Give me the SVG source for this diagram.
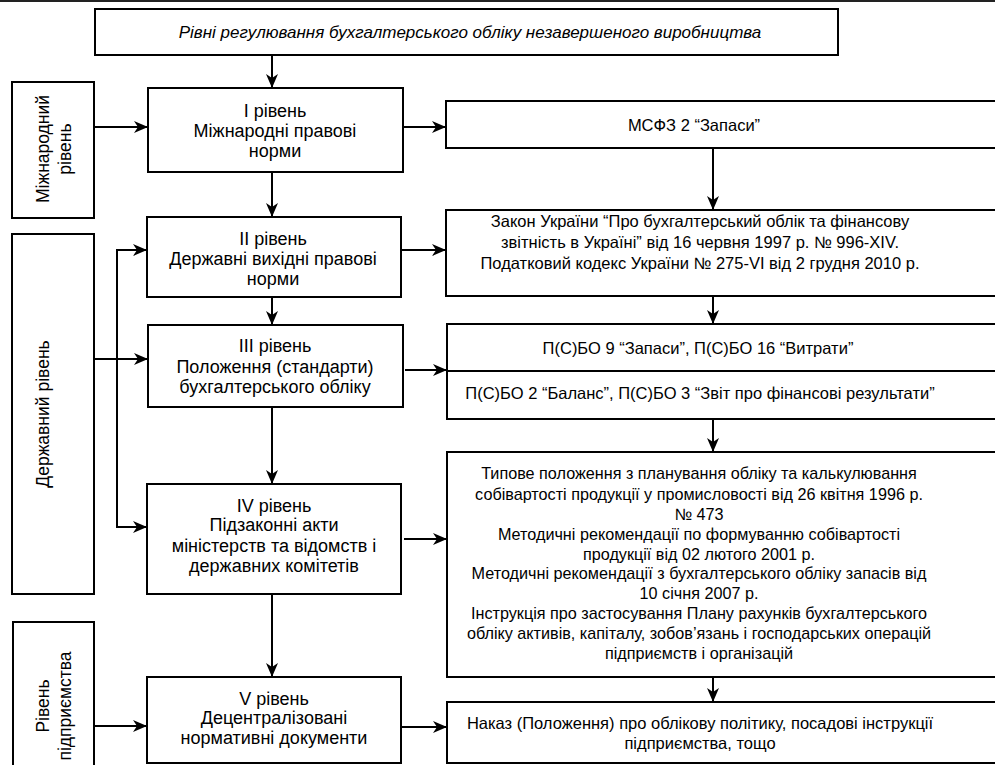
<svg xmlns="http://www.w3.org/2000/svg" width="995" height="765" viewBox="0 0 995 765">
<defs>
<marker id="ah" markerUnits="userSpaceOnUse" markerWidth="15" markerHeight="13" refX="14" refY="6.5" orient="auto">
<path d="M0,0.5 L14,6.5 L0,12.5 L4,6.5 Z" fill="#000"/>
</marker>
<style>
.box{fill:#fff;stroke:#000;stroke-width:2}
.t{font-family:"Liberation Sans",Arial,sans-serif;font-size:18px;fill:#000;text-anchor:middle}
.v{font-family:"Liberation Sans",Arial,sans-serif;font-size:17.5px;fill:#000;text-anchor:middle}
.r{font-family:"Liberation Sans",Arial,sans-serif;font-size:16.5px;fill:#000;text-anchor:middle}
.n{font-family:"Liberation Sans",Arial,sans-serif;font-size:16.2px;fill:#000;text-anchor:middle}
.h{font-family:"Liberation Sans",Arial,sans-serif;font-size:17px;font-style:italic;fill:#000;text-anchor:middle}
.c{fill:none;stroke:#000;stroke-width:2;marker-end:url(#ah)}
.p{fill:none;stroke:#000;stroke-width:2}
</style>
</defs>
<rect x="0" y="0" width="995" height="2" fill="#222"/>
<g id="title">
<rect class="box" x="95" y="9" width="743" height="46"/>
<text class="h" x="470" y="38">Рівні регулювання бухгалтерського обліку незавершеного виробництва</text>
</g>
<g id="intl">
<rect class="box" x="12" y="82" width="82" height="136"/>
<text class="v" transform="translate(49,149) rotate(-90)">Міжнародний</text>
<text class="v" transform="translate(71,149) rotate(-90)">рівень</text>
</g>
<g id="state">
<rect class="box" x="12" y="234" width="82" height="360"/>
<text class="v" transform="translate(49,414) rotate(-90)">Державний рівень</text>
</g>
<g id="enterprise">
<rect class="box" x="13" y="622" width="81" height="150"/>
<text class="v" transform="translate(49,706) rotate(-90)">Рівень</text>
<text class="v" transform="translate(71,706) rotate(-90)">підприємства</text>
</g>
<g id="level1">
<rect class="box" x="148" y="88" width="255" height="84"/>
<text class="t" x="275" y="117">І рівень</text>
<text class="t" x="275" y="137">Міжнародні правові</text>
<text class="t" x="275" y="157">норми</text>
</g>
<g id="level2">
<rect class="box" x="147" y="217" width="254" height="80"/>
<text class="t" x="273" y="245">ІІ рівень</text>
<text class="t" x="273" y="265">Державні вихідні правові</text>
<text class="t" x="273" y="285">норми</text>
</g>
<g id="level3">
<rect class="box" x="148" y="325" width="255" height="82"/>
<text class="t" x="275" y="352">ІІІ рівень</text>
<text class="t" x="275" y="373">Положення (стандарти)</text>
<text class="t" x="275" y="393">бухгалтерського обліку</text>
</g>
<g id="level4">
<rect class="box" x="147" y="484" width="254" height="110"/>
<text class="t" x="274" y="512">IV рівень</text>
<text class="t" x="274" y="531">Підзаконні акти</text>
<text class="t" x="274" y="552">міністерств та відомств і</text>
<text class="t" x="274" y="572">державних комітетів</text>
</g>
<g id="level5">
<rect class="box" x="147" y="677" width="254" height="86"/>
<text class="t" x="274" y="705">V рівень</text>
<text class="t" x="274" y="724">Децентралізовані</text>
<text class="t" x="274" y="744">нормативні документи</text>
</g>
<g id="msfz">
<rect class="box" x="446" y="101" width="560" height="47"/>
<text class="r" x="694" y="131">МСФЗ 2 “Запаси”</text>
</g>
<g id="law">
<rect class="box" x="446" y="210" width="560" height="86"/>
<text class="r" x="700" y="227">Закон України “Про бухгалтерський облік та фінансову</text>
<text class="r" x="700" y="248">звітність в Україні” від 16 червня 1997 р. № 996-XIV.</text>
<text class="r" x="700" y="269">Податковий кодекс України № 275-VI від 2 грудня 2010 р.</text>
</g>
<g id="psbo">
<rect class="box" x="447" y="324" width="560" height="95"/>
<line class="p" x1="447" y1="371" x2="1007" y2="371"/>
<text class="r" x="698" y="354">П(С)БО 9 “Запаси”, П(С)БО 16 “Витрати”</text>
<text class="r" x="700" y="399">П(С)БО 2 “Баланс”, П(С)БО 3 “Звіт про фінансові результати”</text>
</g>
<g id="acts">
<rect class="box" x="447" y="452" width="560" height="225"/>
<text class="n" x="699" y="479">Типове положення з планування обліку та калькулювання</text>
<text class="n" x="699" y="500">собівартості продукції у промисловості від 26 квітня 1996 р.</text>
<text class="n" x="699" y="520">№ 473</text>
<text class="n" x="699" y="540">Методичні рекомендації по формуванню собівартості</text>
<text class="n" x="699" y="560">продукції від 02 лютого 2001 р.</text>
<text class="n" x="699" y="579">Методичні рекомендації з бухгалтерського обліку запасів від</text>
<text class="n" x="699" y="599">10 січня 2007 р.</text>
<text class="n" x="699" y="619">Інструкція про застосування Плану рахунків бухгалтерського</text>
<text class="n" x="699" y="639">обліку активів, капіталу, зобов’язань і господарських операцій</text>
<text class="n" x="699" y="659">підприємств і організацій</text>
</g>
<g id="order">
<rect class="box" x="447" y="702" width="560" height="61"/>
<text class="r" x="700" y="729">Наказ (Положення) про облікову політику, посадові інструкції</text>
<text class="r" x="700" y="749">підприємства, тощо</text>
</g>
<g id="connectors">
<line class="c" x1="272" y1="55" x2="272" y2="88"/>
<line class="c" x1="94" y1="127" x2="148" y2="127"/>
<line class="c" x1="403" y1="127" x2="446" y2="127"/>
<line class="c" x1="272" y1="172" x2="272" y2="217"/>
<line class="c" x1="713" y1="148" x2="713" y2="210"/>
<line class="c" x1="94" y1="359" x2="148" y2="359"/>
<path class="c" d="M117,359 V250 H147"/>
<path class="c" d="M117,359 V527 H147"/>
<line class="c" x1="272" y1="297" x2="272" y2="325"/>
<line class="c" x1="401" y1="250" x2="446" y2="250"/>
<line class="c" x1="405" y1="370" x2="447" y2="370"/>
<line class="c" x1="713" y1="296" x2="713" y2="324"/>
<line class="c" x1="272" y1="407" x2="272" y2="484"/>
<line class="c" x1="713" y1="419" x2="713" y2="452"/>
<line class="c" x1="404" y1="539" x2="447" y2="539"/>
<line class="c" x1="272" y1="594" x2="272" y2="677"/>
<line class="c" x1="713" y1="677" x2="713" y2="702"/>
<line class="c" x1="94" y1="726" x2="147" y2="726"/>
<line class="c" x1="401" y1="727" x2="447" y2="727"/>
</g>
</svg>
